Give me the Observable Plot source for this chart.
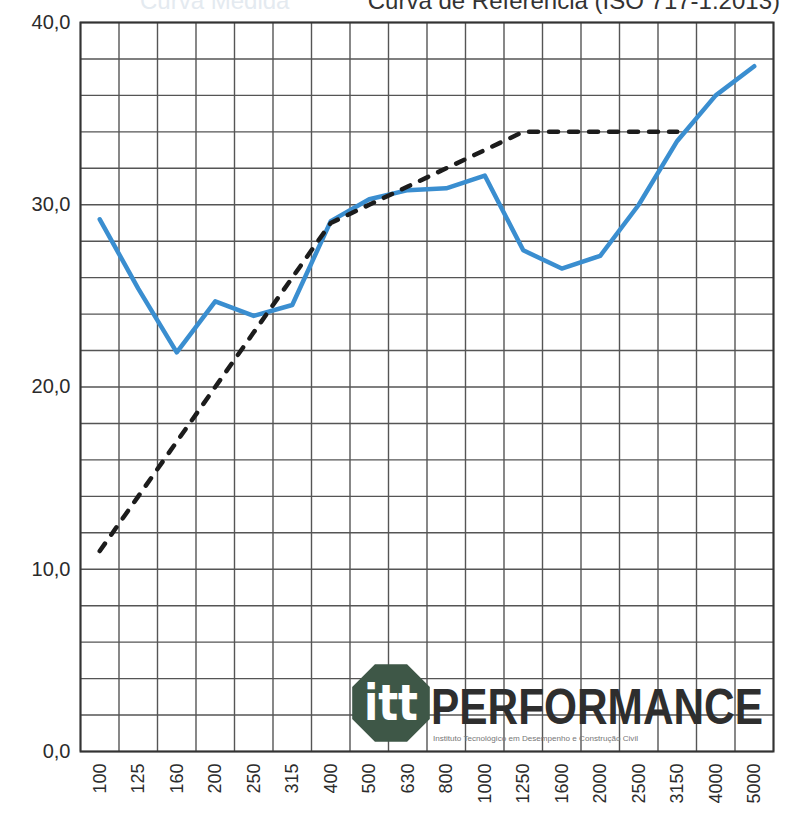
<!DOCTYPE html>
<html>
<head>
<meta charset="utf-8">
<script src="https://cdn.jsdelivr.net/npm/d3@7"></script>
<script src="https://cdn.jsdelivr.net/npm/@observablehq/plot@0.6"></script>
<style>
  html, body { margin: 0; padding: 0; background: #fff; }
  #chart { position: relative; width: 798px; height: 821px; overflow: hidden; }
</style>
</head>
<body>
<div id="chart"></div>
<script>
// Frequency bands (Hz)
const freqs = ["100","125","160","200","250","315","400","500","630","800","1000","1250","1600","2000","2500","3150","4000","5000"];
// Measured curve (dB)
const measured = [29.2, 25.4, 21.9, 24.7, 23.9, 24.5, 29.1, 30.3, 30.8, 30.9, 31.6, 27.5, 26.5, 27.2, 30.0, 33.5, 36.0, 37.6];
// Shifted reference curve ISO 717-1:2013 (100–3150 Hz)
const reference = [11, 14, 17, 20, 23, 26, 29, 30, 31, 32, 33, 34, 34, 34, 34, 34];
// Y tick labels
const yTicks = [0, 10, 20, 30, 40];
const legendRef = "Curva de Referência (ISO 717-1:2013)";
const legendMeas = "Curva Medida";

const measData = measured.map((v, i) => ({x: i + 0.5, v}));
const refData = reference.map((v, i) => ({x: i + 0.5, v}));

const plot = Plot.plot({
  width: 798,
  height: 821,
  marginLeft: 80,
  marginRight: 25,
  marginTop: 22,
  marginBottom: 70,
  style: {fontFamily: "Liberation Sans, Arial, sans-serif", color: "#2b2b2b", background: "#fff"},
  x: {domain: [0, 18]},
  y: {domain: [0, 40]},
  marks: [
    Plot.ruleY(d3.range(0, 41, 2), {stroke: "#555", strokeWidth: 1.4}),
    Plot.ruleX(d3.range(0, 19), {stroke: "#555", strokeWidth: 1.4}),
    Plot.frame({stroke: "#333", strokeWidth: 2}),
    Plot.line(measData, {x: "x", y: "v", stroke: "#3a8ed0", strokeWidth: 4.5, strokeLinejoin: "round"}),
    Plot.line(refData, {x: "x", y: "v", stroke: "#1c1c1c", strokeWidth: 4.5, strokeDasharray: "9,11", strokeLinecap: "round"}),
    Plot.axisY({ticks: yTicks, tickSize: 0, tickPadding: 10, fontSize: 20, label: null,
      tickFormat: d => d.toFixed(1).replace(".", ",")}),
    Plot.axisX({ticks: d3.range(18).map(i => i + 0.5), tickSize: 0, tickPadding: 12, tickRotate: -90,
      fontSize: 18, label: null, tickFormat: d => freqs[Math.floor(d)]})
  ]
});

document.getElementById("chart").appendChild(plot);

// Decorations: cut-off legend at top and watermark logo
const svg = d3.select(plot);
svg.append("text")
  .attr("x", 780).attr("y", 9)
  .attr("text-anchor", "end")
  .attr("font-size", 24)
  .attr("font-family", "Liberation Sans, Arial, sans-serif")
  .attr("fill", "#333")
  .text(legendRef);
svg.append("text")
  .attr("x", 140).attr("y", 9)
  .attr("text-anchor", "start")
  .attr("font-size", 24)
  .attr("font-family", "Liberation Sans, Arial, sans-serif")
  .attr("fill", "#e4eaf0")
  .text(legendMeas);

const logo = svg.append("g");
const cx = 391, cy = 703, r = 42;
const pts = d3.range(8).map(k => {
  const a = Math.PI / 8 + k * Math.PI / 4;
  return [cx + r * Math.cos(a), cy + r * Math.sin(a)];
});
logo.append("polygon").attr("points", pts.map(p => p.join(",")).join(" ")).attr("fill", "#3e5747");
logo.append("text")
  .attr("x", cx - 27).attr("y", cy + 17)
  .attr("text-anchor", "start")
  .attr("font-size", 50).attr("font-weight", "bold")
  .attr("font-family", "DejaVu Sans, sans-serif")
  .attr("textLength", 54).attr("lengthAdjust", "spacingAndGlyphs")
  .attr("fill", "#fff")
  .text("itt");
logo.append("text")
  .attr("x", 431).attr("y", 724)
  .attr("text-anchor", "start")
  .attr("font-size", 50).attr("font-weight", "bold")
  .attr("font-family", "Liberation Sans, Arial, sans-serif")
  .attr("textLength", 332).attr("lengthAdjust", "spacingAndGlyphs")
  .attr("fill", "#2e2e2e")
  .text("PERFORMANCE");
logo.append("text")
  .attr("x", 433).attr("y", 741)
  .attr("text-anchor", "start")
  .attr("font-size", 7)
  .attr("font-family", "Liberation Sans, Arial, sans-serif")
  .attr("textLength", 205).attr("lengthAdjust", "spacingAndGlyphs")
  .attr("fill", "#777")
  .text("Instituto Tecnológico em Desempenho e Construção Civil");
</script>
</body>
</html>
